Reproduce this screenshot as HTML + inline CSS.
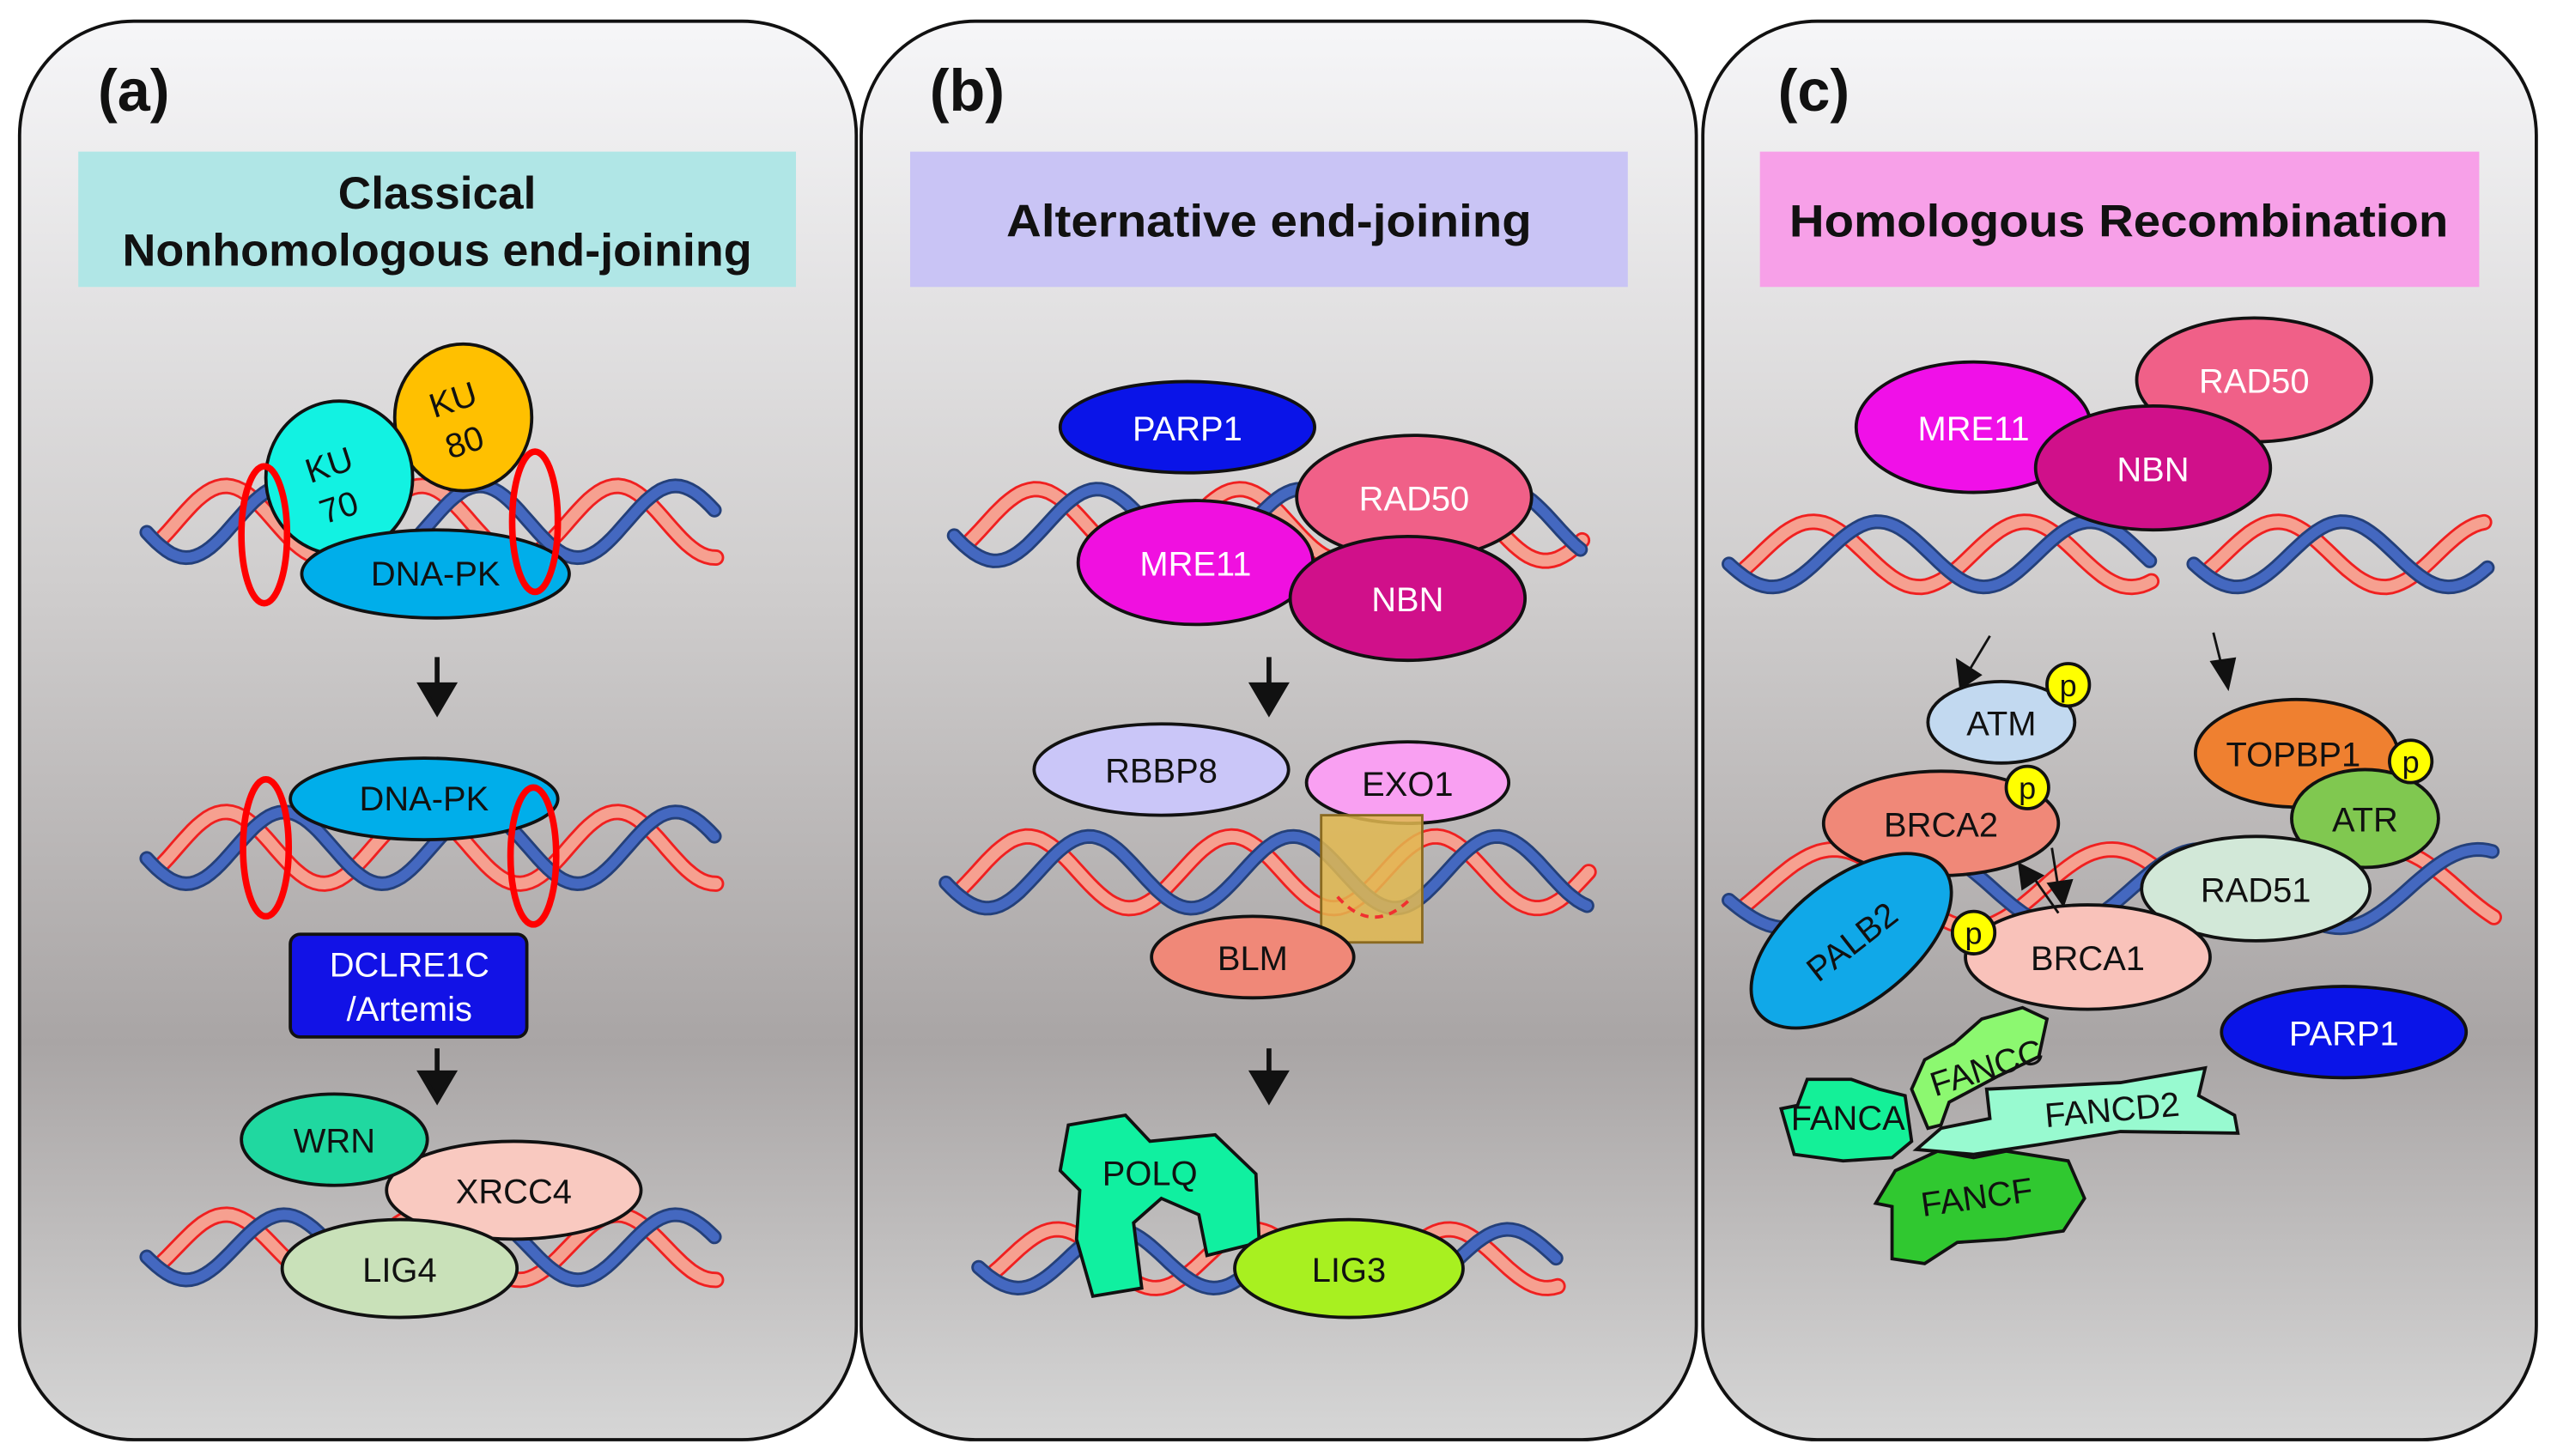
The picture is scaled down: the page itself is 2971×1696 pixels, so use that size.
<!DOCTYPE html>
<html><head><meta charset="utf-8"><style>
html,body{margin:0;padding:0;background:#fff;}
svg{display:block;}
text{font-family:"Liberation Sans",sans-serif;}
</style></head><body>
<svg id="s" width="2971" height="1696" viewBox="0 0 1564 893" preserveAspectRatio="none" xmlns="http://www.w3.org/2000/svg">
<defs>
<linearGradient id="bg" x1="0" y1="0" x2="0" y2="1">
<stop offset="0" stop-color="#f6f6f8"/><stop offset="0.4" stop-color="#cfcdcd"/><stop offset="0.72" stop-color="#a9a5a5"/><stop offset="1" stop-color="#d6d6d6"/>
</linearGradient>
</defs>
<rect width="1564" height="893" fill="#fff"/>
<rect x="12" y="13" width="513" height="870" rx="70" fill="url(#bg)" stroke="#111" stroke-width="2"/>
<rect x="528" y="13" width="512" height="870" rx="70" fill="url(#bg)" stroke="#111" stroke-width="2"/>
<rect x="1044" y="13" width="511" height="870" rx="70" fill="url(#bg)" stroke="#111" stroke-width="2"/>
<g font-weight="bold" font-size="36" fill="#111">
<text x="60" y="68">(a)</text><text x="570" y="68">(b)</text><text x="1090" y="68">(c)</text>
</g>
<rect x="48" y="93" width="440" height="83" fill="#b0e6e6"/>
<rect x="558" y="93" width="440" height="83" fill="#c9c4f5"/>
<rect x="1079" y="93" width="441" height="83" fill="#f7a0e8"/>
<g font-weight="bold" font-size="28" fill="#111" text-anchor="middle">
<text x="268" y="128">Classical</text><text x="268" y="163" textLength="386" lengthAdjust="spacingAndGlyphs">Nonhomologous end-joining</text>
<text x="778" y="145" textLength="322" lengthAdjust="spacingAndGlyphs">Alternative end-joining</text>
<text x="1299" y="145" textLength="404" lengthAdjust="spacingAndGlyphs">Homologous Recombination</text>
</g>
<g id="dna"></g>
<g id="fg" font-size="21" text-anchor="middle" stroke="#111" stroke-width="2">
<ellipse cx="284" cy="256" rx="42" ry="45" fill="#ffc000"/>
<ellipse cx="208" cy="293" rx="45" ry="47" fill="#12f2e2"/>
<ellipse cx="267" cy="352" rx="82" ry="27" fill="#00aeea"/>
<ellipse cx="162" cy="328" rx="14" ry="42" fill="none" stroke="#f00" stroke-width="4"/>
<ellipse cx="328" cy="320" rx="14" ry="43" fill="none" stroke="#f00" stroke-width="4"/>
<ellipse cx="260" cy="490" rx="82" ry="25" fill="#00aeea"/>
<ellipse cx="163" cy="520" rx="14" ry="42" fill="none" stroke="#f00" stroke-width="4"/>
<ellipse cx="327" cy="525" rx="14" ry="42" fill="none" stroke="#f00" stroke-width="4"/>
<rect x="178" y="573" width="145" height="63" rx="6" fill="#1212e6"/>
<ellipse cx="315" cy="730" rx="78" ry="30" fill="#f9c9c0"/>
<ellipse cx="205" cy="699" rx="57" ry="28" fill="#20d8a0"/>
<ellipse cx="245" cy="778" rx="72" ry="30" fill="#c9e1b9"/>
<ellipse cx="728" cy="262" rx="78" ry="28" fill="#0a14e8"/>
<ellipse cx="867" cy="305" rx="72" ry="38" fill="#f06088"/>
<ellipse cx="733" cy="345" rx="72" ry="38" fill="#f010e0"/>
<ellipse cx="863" cy="367" rx="72" ry="38" fill="#d0108a"/>
<ellipse cx="712" cy="472" rx="78" ry="28" fill="#cac6f8"/>
<ellipse cx="863" cy="480" rx="62" ry="25" fill="#f9a0f2"/>
<rect x="810" y="500" width="62" height="78" fill="#e2b850" fill-opacity="0.85" stroke="#8a6a20" stroke-width="1.5"/>
<path d="M820 550 Q842 575 866 550" fill="none" stroke="#f03030" stroke-width="2" stroke-dasharray="5 4"/>
<ellipse cx="768" cy="587" rx="62" ry="25" fill="#f08878"/>
<path d="M655 690 L690 684 L705 700 L745 696 L770 720 L772 762 L740 770 L735 745 L712 735 L695 750 L700 790 L670 795 L660 760 L662 730 L650 718 Z" fill="#10f0a0"/>
<ellipse cx="827" cy="778" rx="70" ry="30" fill="#a8f020"/>
<ellipse cx="1382" cy="233" rx="72" ry="38" fill="#f06088"/>
<ellipse cx="1210" cy="262" rx="72" ry="40" fill="#f010e8"/>
<ellipse cx="1320" cy="287" rx="72" ry="38" fill="#d0108a"/>
<ellipse cx="1227" cy="443" rx="45" ry="25" fill="#c2d9f0"/>
<ellipse cx="1408" cy="462" rx="62" ry="33" fill="#ef8030"/>
<ellipse cx="1450" cy="502" rx="45" ry="30" fill="#80c850"/>
<ellipse cx="1190" cy="505" rx="72" ry="32" fill="#f08878"/>
<ellipse cx="1383" cy="545" rx="70" ry="32" fill="#d2e8d8"/>
<ellipse cx="1135" cy="577" rx="72" ry="38" fill="#10a8e8" transform="rotate(-38 1135 577)"/>
<ellipse cx="1280" cy="587" rx="75" ry="32" fill="#f9c2ba"/>
<ellipse cx="1437" cy="633" rx="75" ry="28" fill="#0a14e8"/>
<path d="M1100 708 L1092 680 L1102 678 L1108 662 L1135 662 L1152 668 L1168 672 L1172 700 L1160 710 L1130 712 Z" fill="#14f098"/>
<path d="M1182 692 L1172 668 L1180 650 L1198 640 L1215 625 L1240 618 L1255 625 L1250 648 L1225 660 L1195 676 L1190 690 Z" fill="#8cf870"/>
<path d="M1160 772 L1160 740 L1150 738 L1162 718 L1188 706 L1210 710 L1230 706 L1268 712 L1278 735 L1265 755 L1230 760 L1200 762 L1180 775 Z" fill="#30c830"/>
<path d="M1175 705 L1190 692 L1220 686 L1218 668 L1300 664 L1352 655 L1348 672 L1370 684 L1372 695 L1300 694 L1250 702 L1210 708 Z" fill="#98fad0"/>
<circle cx="1268" cy="420" r="13" fill="#ffff00"/>
<circle cx="1478" cy="467" r="13" fill="#ffff00"/>
<circle cx="1243" cy="483" r="13" fill="#ffff00"/>
<circle cx="1210" cy="572" r="13" fill="#ffff00"/>
</g>
<g font-size="21" text-anchor="middle" fill="#111">
<text x="204" y="292" transform="rotate(-18 204 292)">KU</text><text x="210" y="318" transform="rotate(-18 210 318)">70</text>
<text x="280" y="252" transform="rotate(-18 280 252)">KU</text><text x="287" y="278" transform="rotate(-18 287 278)">80</text>
<text x="267" y="359">DNA-PK</text><text x="260" y="497">DNA-PK</text>
<text x="251" y="599" fill="#fff">DCLRE1C</text><text x="251" y="626" fill="#fff">/Artemis</text>
<text x="205" y="707">WRN</text><text x="315" y="738">XRCC4</text><text x="245" y="786">LIG4</text>
<text x="728" y="270" fill="#fff">PARP1</text><text x="867" y="313" fill="#fff">RAD50</text>
<text x="733" y="353" fill="#fff">MRE11</text><text x="863" y="375" fill="#fff">NBN</text>
<text x="712" y="480">RBBP8</text><text x="863" y="488">EXO1</text><text x="768" y="595">BLM</text>
<text x="705" y="727">POLQ</text><text x="827" y="786">LIG3</text>
<text x="1382" y="241" fill="#fff">RAD50</text><text x="1210" y="270" fill="#fff">MRE11</text><text x="1320" y="295" fill="#fff">NBN</text>
<text x="1227" y="451">ATM</text><text x="1406" y="470">TOPBP1</text><text x="1450" y="510">ATR</text>
<text x="1190" y="513">BRCA2</text><text x="1383" y="553">RAD51</text>
<text x="1135" y="585" transform="rotate(-38 1135 577)">PALB2</text>
<text x="1280" y="595">BRCA1</text><text x="1437" y="641" fill="#fff">PARP1</text>
<text x="1218" y="662" transform="rotate(-18 1218 655)">FANCC</text>
<text x="1133" y="693">FANCA</text><text x="1295" y="688" transform="rotate(-5 1293 682)">FANCD2</text>
<text x="1212" y="742" transform="rotate(-8 1208 735)">FANCF</text>
<text x="1268" y="427" font-size="19">p</text><text x="1478" y="474" font-size="19">p</text>
<text x="1243" y="490" font-size="19">p</text><text x="1210" y="579" font-size="19">p</text>
</g>
<g stroke="#111" stroke-width="3" fill="#111">
<line x1="268" y1="403" x2="268" y2="422"/><path d="M258 420 L278 420 L268 437 Z"/>
<line x1="268" y1="643" x2="268" y2="660"/><path d="M258 658 L278 658 L268 675 Z"/>
<line x1="778" y1="403" x2="778" y2="422"/><path d="M768 420 L788 420 L778 437 Z"/>
<line x1="778" y1="643" x2="778" y2="660"/><path d="M768 658 L788 658 L778 675 Z"/>
<g stroke-width="1.5">
<line x1="1220" y1="390" x2="1208" y2="410"/><path d="M1200 405 L1214 414 L1202 422 Z"/>
<line x1="1357" y1="388" x2="1362" y2="408"/><path d="M1356 406 L1370 404 L1366 422 Z"/>
<line x1="1258" y1="520" x2="1262" y2="545"/><path d="M1256 542 L1270 540 L1265 555 Z"/>
<line x1="1262" y1="560" x2="1248" y2="540"/><path d="M1240 545 L1252 537 L1238 530 Z"/>
</g>
</g>
</svg>
<script>
function wave(x0,x1,y,amp,per,ph){var d="";for(var x=x0;x<=x1;x+=3){var yy=y+amp*Math.sin((x-x0)/per*2*Math.PI+ph);d+=(d?"L":"M")+x.toFixed(1)+" "+yy.toFixed(1);}return d;}
var specs=[
[90,440,320,22,120,0.3],[90,440,520,22,120,0.3],[90,440,765,20,120,0.3],
[585,970,322,22,125,0.3],[580,975,535,22,125,0.3],[600,955,772,18,120,0.3],
[1060,1320,340,20,130,0.3],[1345,1525,340,20,130,0.3],[1060,1530,545,24,170,0.3]];
var g=document.getElementById("dna"),h="";
specs.forEach(function(s){
 var r=wave(s[0]+10,s[1],s[2],s[3],s[4],s[5]+2.4),b=wave(s[0],s[1],s[2],s[3],s[4],s[5]);
 h+='<path d="'+r+'" fill="none" stroke="#f02020" stroke-width="10" stroke-linecap="round"/>';
 h+='<path d="'+r+'" fill="none" stroke="#f6a090" stroke-width="7" stroke-linecap="round"/>';
 h+='<path d="'+b+'" fill="none" stroke="#24407a" stroke-width="9" stroke-linecap="round"/>';
 h+='<path d="'+b+'" fill="none" stroke="#4468c0" stroke-width="6" stroke-linecap="round"/>';
});
g.innerHTML=h;
</script>
</body></html>
